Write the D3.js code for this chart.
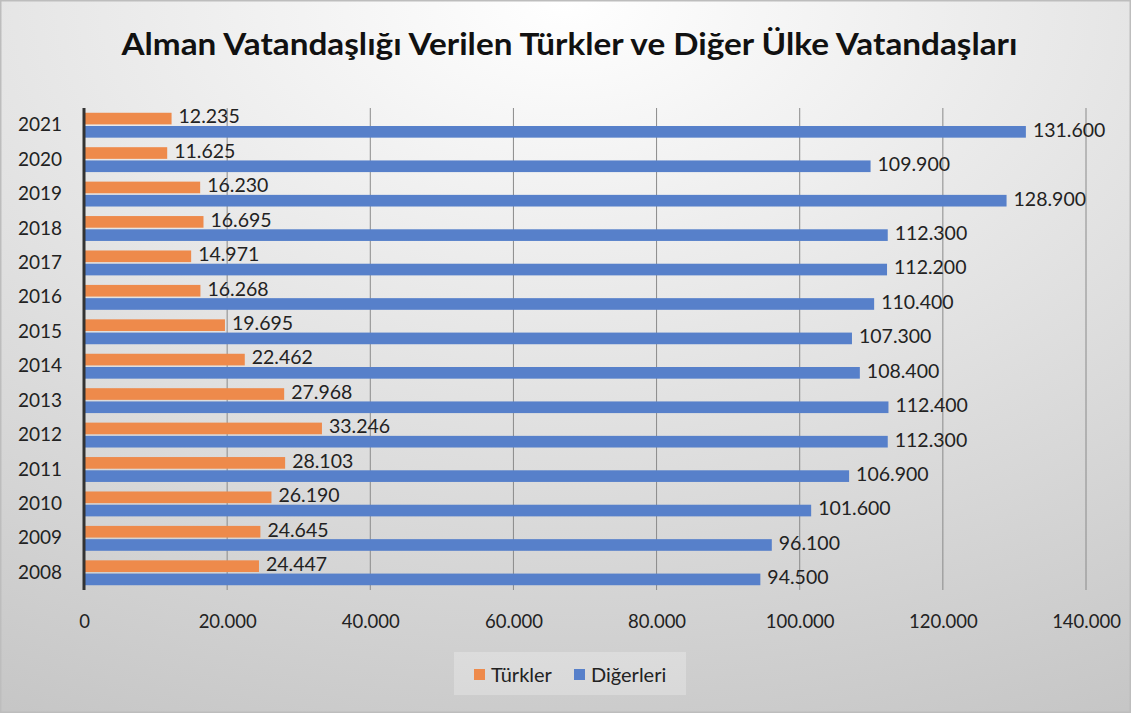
<!DOCTYPE html>
<html>
<head>
<meta charset="utf-8">
<script src="https://cdn.jsdelivr.net/npm/d3@7"></script>
<style>
  body { margin: 0; background: #fff; }
  text { font-family: Lato, "Open Sans", sans-serif; fill: #222; }
</style>
</head>
<body>
<div id="chart"></div>
<script>
// values
const years = ["2021", "2020", "2019", "2018", "2017", "2016", "2015", "2014", "2013", "2012", "2011", "2010", "2009", "2008"];
const turkler = [12235, 11625, 16230, 16695, 14971, 16268, 19695, 22462, 27968, 33246, 28103, 26190, 24645, 24447];
const digerleri = [131600, 109900, 128900, 112300, 112200, 110400, 107300, 108400, 112400, 112300, 106900, 101600, 96100, 94500];
const xTicks = [0, 20000, 40000, 60000, 80000, 100000, 120000, 140000];
const seriesNames = ["Türkler", "Diğerleri"];
const seriesColors = ["#ee8a4b", "#5780ca"];

const width = 1131, height = 713;
const margin = { top: 108, right: 45, bottom: 123, left: 84 };

const fmt = v => d3.format(",")(v).replace(/,/g, ".");

const svg = d3.select("#chart").append("svg")
    .attr("width", width)
    .attr("height", height);

const defs = svg.append("defs");
const grad = defs.append("radialGradient")
    .attr("id", "bg")
    .attr("cx", "50%").attr("cy", "0%")
    .attr("r", "115%")
    .attr("gradientUnits", "objectBoundingBox");
grad.append("stop").attr("offset", "0%").attr("stop-color", "#ffffff");
grad.append("stop").attr("offset", "100%").attr("stop-color", "#c4c4c4");

svg.append("rect")
    .attr("x", 0.5).attr("y", 0.5)
    .attr("width", width - 1).attr("height", height - 1)
    .attr("fill", "url(#bg)")
    .attr("stroke", "#bdbdbd")
    .attr("stroke-width", 2);

// title
const title = svg.append("text")
    .attr("x", width / 2 + 4)
    .attr("y", 55)
    .attr("text-anchor", "middle")
    .style("font-size", "31px")
    .style("font-weight", "bold")
    .style("fill", "#111")
    .text("Alman Vatandaşlığı Verilen Türkler ve Diğer Ülke Vatandaşları");
title.attr("textLength", 896).attr("lengthAdjust", "spacingAndGlyphs");

const x = d3.scaleLinear()
    .domain([0, 140000])
    .range([margin.left, width - margin.right]);

const y = d3.scaleBand()
    .domain(years)
    .range([margin.top, height - margin.bottom])
    .padding(0);

const sub = d3.scaleBand()
    .domain([0, 1])
    .range([0, y.bandwidth()])
    .paddingInner(0.12)
    .paddingOuter(0.36);

// gridlines
svg.append("g")
    .selectAll("line")
    .data(xTicks.slice(1))
    .join("line")
    .attr("x1", d => x(d)).attr("x2", d => x(d))
    .attr("y1", margin.top).attr("y2", height - margin.bottom)
    .attr("stroke", "#8a8a8a")
    .attr("stroke-width", 1);

// x tick labels
const xAxis = svg.append("g")
    .attr("transform", `translate(0,${height - margin.bottom})`)
    .call(d3.axisBottom(x).tickValues(xTicks).tickFormat(fmt).tickSize(0).tickPadding(0));
xAxis.select(".domain").remove();
xAxis.selectAll("text")
    .attr("y", 38)
    .attr("dy", null)
    .style("font-size", "18.5px")
    .style("font-family", "Lato, sans-serif")
    .attr("fill", "#222");

// y labels
const yAxis = svg.append("g")
    .attr("transform", `translate(${margin.left},0)`)
    .call(d3.axisLeft(y).tickSize(0).tickPadding(22));
yAxis.select(".domain").remove();
yAxis.selectAll("text")
    .style("font-size", "19px")
    .style("font-family", "Lato, sans-serif")
    .attr("fill", "#222");

// bars
const rows = years.map((yr, i) => ({ year: yr, values: [turkler[i], digerleri[i]] }));

const groups = svg.append("g")
    .selectAll("g")
    .data(rows)
    .join("g")
    .attr("transform", d => `translate(0,${y(d.year)})`);

groups.selectAll("rect")
    .data(d => d.values.map((v, k) => ({ v, k })))
    .join("rect")
    .attr("x", x(0))
    .attr("y", d => sub(d.k))
    .attr("width", d => x(d.v) - x(0))
    .attr("height", sub.bandwidth())
    .attr("fill", d => seriesColors[d.k]);

groups.selectAll("text")
    .data(d => d.values.map((v, k) => ({ v, k })))
    .join("text")
    .attr("x", d => x(d.v) + 7)
    .attr("y", d => sub(d.k) + sub.bandwidth() / 2 - 2)
    .attr("dy", "0.35em")
    .style("font-size", "19.5px")
    .text(d => fmt(d.v));

// left axis line
svg.append("line")
    .attr("x1", x(0)).attr("x2", x(0))
    .attr("y1", margin.top).attr("y2", height - margin.bottom)
    .attr("stroke", "#333")
    .attr("stroke-width", 3);

// legend
const legend = svg.append("g");
legend.append("rect")
    .attr("x", 454).attr("y", 652)
    .attr("width", 232).attr("height", 43)
    .attr("fill", "#ffffff")
    .attr("fill-opacity", 0.25);

const legendX = [474, 574];
const items = legend.selectAll("g")
    .data(seriesNames)
    .join("g")
    .attr("transform", (d, i) => `translate(${legendX[i]},669)`);
items.append("rect")
    .attr("width", 11).attr("height", 11)
    .attr("fill", (d, i) => seriesColors[i]);
items.append("text")
    .attr("x", 17)
    .attr("y", 6)
    .attr("dy", "0.35em")
    .style("font-size", "20px")
    .text(d => d);
</script>
</body>
</html>
